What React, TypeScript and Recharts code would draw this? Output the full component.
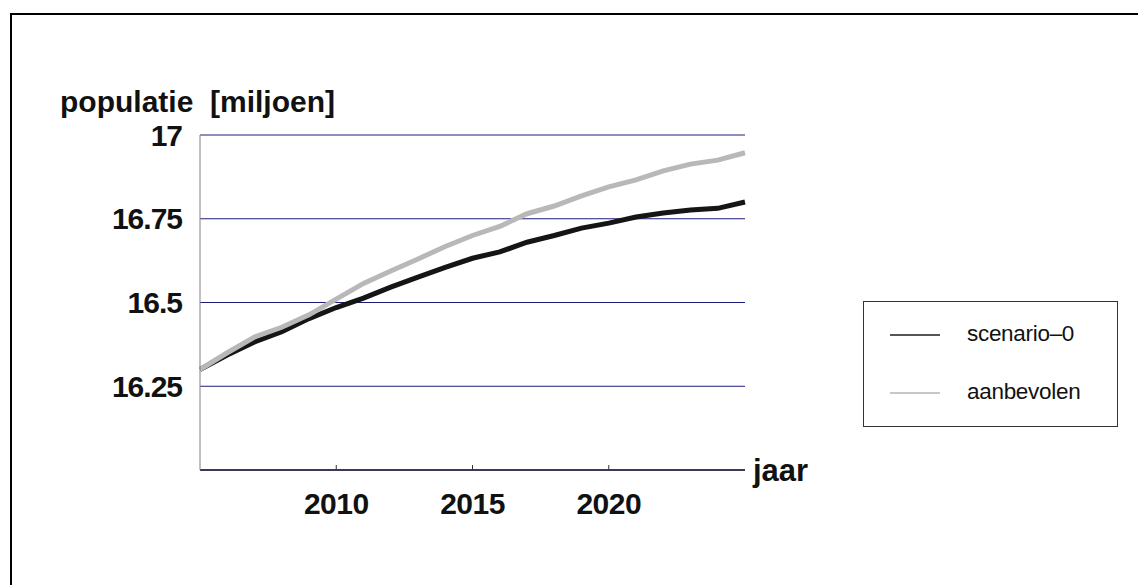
import { LineChart, Line, XAxis, YAxis, CartesianGrid } from "recharts";

const years = [
  2005, 2006, 2007, 2008, 2009, 2010, 2011, 2012, 2013, 2014, 2015,
  2016, 2017, 2018, 2019, 2020, 2021, 2022, 2023, 2024, 2025,
];
const scenario0 = [
  16.3, 16.343, 16.382, 16.413, 16.452, 16.485, 16.513, 16.546, 16.576, 16.605, 16.632,
  16.651, 16.68, 16.7, 16.722, 16.737, 16.755, 16.767, 16.776, 16.781, 16.8,
];
const aanbevolen = [
  16.3, 16.35, 16.397, 16.426, 16.463, 16.51, 16.557, 16.594, 16.63, 16.667, 16.7,
  16.727, 16.765, 16.788, 16.818, 16.845, 16.866, 16.893, 16.913, 16.925, 16.947,
];
const xTicks = [2010, 2015, 2020];
const yTicks = [16.25, 16.5, 16.75, 17];
const seriesNames = ["scenario\u20130", "aanbevolen"];

const data = years.map((jaar, i) => ({
  jaar,
  scenario0: scenario0[i],
  aanbevolen: aanbevolen[i],
}));

const FONT = '"Liberation Sans", Arial, Helvetica, sans-serif';

const legendItems = [
  { name: seriesNames[0], color: "#555555" },
  { name: seriesNames[1], color: "#c8c8c8" },
];

// legend box sits to the right of the plot, drawn as plain html
const LegendBox = () => (
  <div
    style={{
      position: "absolute",
      left: 863,
      top: 301,
      width: 255,
      height: 126,
      boxSizing: "border-box",
      border: "1px solid #333",
      background: "#fff",
      fontFamily: FONT,
    }}
  >
    {legendItems.map((item, i) => (
      <div
        key={item.name}
        style={{ position: "absolute", left: 0, top: 33 + i * 58, width: "100%" }}
      >
        <div
          style={{
            position: "absolute",
            left: 26,
            top: -1,
            width: 50,
            height: 2,
            background: item.color,
          }}
        />
        <div
          style={{
            position: "absolute",
            left: 103,
            top: -15,
            fontSize: 22.5,
            lineHeight: "28px",
            letterSpacing: -0.3,
            color: "#111",
            whiteSpace: "nowrap",
          }}
        >
          {item.name}
        </div>
      </div>
    ))}
  </div>
);

export default function App() {
  return (
    <div
      style={{
        position: "absolute",
        left: 0,
        top: 0,
        width: 1138,
        height: 585,
        overflow: "hidden",
        background: "#fff",
      }}
    >
      <div
        style={{
          position: "absolute",
          left: 10,
          top: 13,
          width: 1300,
          height: 800,
          border: "2px solid #000",
        }}
      />
      <div style={{ position: "absolute", left: 0, top: 0 }}>
        <LineChart
          width={1138}
          height={585}
          data={data}
          margin={{ top: 135, right: 393, bottom: 55, left: 100 }}
        >
          <CartesianGrid vertical={false} stroke="#1c1c7a" strokeWidth={1} />
          <XAxis
            dataKey="jaar"
            type="number"
            domain={[2005, 2025]}
            ticks={xTicks}
            height={60}
            axisLine={{ stroke: "#3a3a58", strokeWidth: 2 }}
            tickLine={{ stroke: "#333", strokeWidth: 1 }}
            tickSize={-5}
            tickMargin={28}
            tick={{ fill: "#111", fontSize: 30, fontWeight: 700, fontFamily: FONT, letterSpacing: -0.5 }}
            label={{
              content: (props: any) => {
                const vb = props.viewBox;
                return (
                  <text
                    x={vb.x + vb.width + 8}
                    y={vb.y + 11}
                    fill="#111"
                    fontSize={31}
                    fontWeight={700}
                    fontFamily={FONT}
                  >
                    jaar
                  </text>
                );
              },
            }}
          />
          <YAxis
            type="number"
            domain={[16, 17]}
            ticks={yTicks}
            width={100}
            axisLine={{ stroke: "#808080", strokeWidth: 1 }}
            tickLine={false}
            tickSize={0}
            tickMargin={18}
            tick={{ fill: "#111", fontSize: 30, fontWeight: 700, fontFamily: FONT, letterSpacing: -1 }}
            label={{
              content: (props: any) => {
                const vb = props.viewBox;
                return (
                  <text
                    x={vb.x - 40}
                    y={vb.y - 23}
                    fill="#111"
                    fontSize={30}
                    fontWeight={700}
                    fontFamily={FONT}
                    style={{ whiteSpace: "pre" }}
                  >
                    {"populatie  [miljoen]"}
                  </text>
                );
              },
            }}
          />
          <Line
            type="linear"
            dataKey="scenario0"
            name={seriesNames[0]}
            stroke="#151515"
            strokeWidth={5}
            dot={false}
            isAnimationActive={false}
          />
          <Line
            type="linear"
            dataKey="aanbevolen"
            name={seriesNames[1]}
            stroke="#b8b8b8"
            strokeWidth={5}
            dot={false}
            isAnimationActive={false}
          />
        </LineChart>
      </div>
      <LegendBox />
    </div>
  );
}
